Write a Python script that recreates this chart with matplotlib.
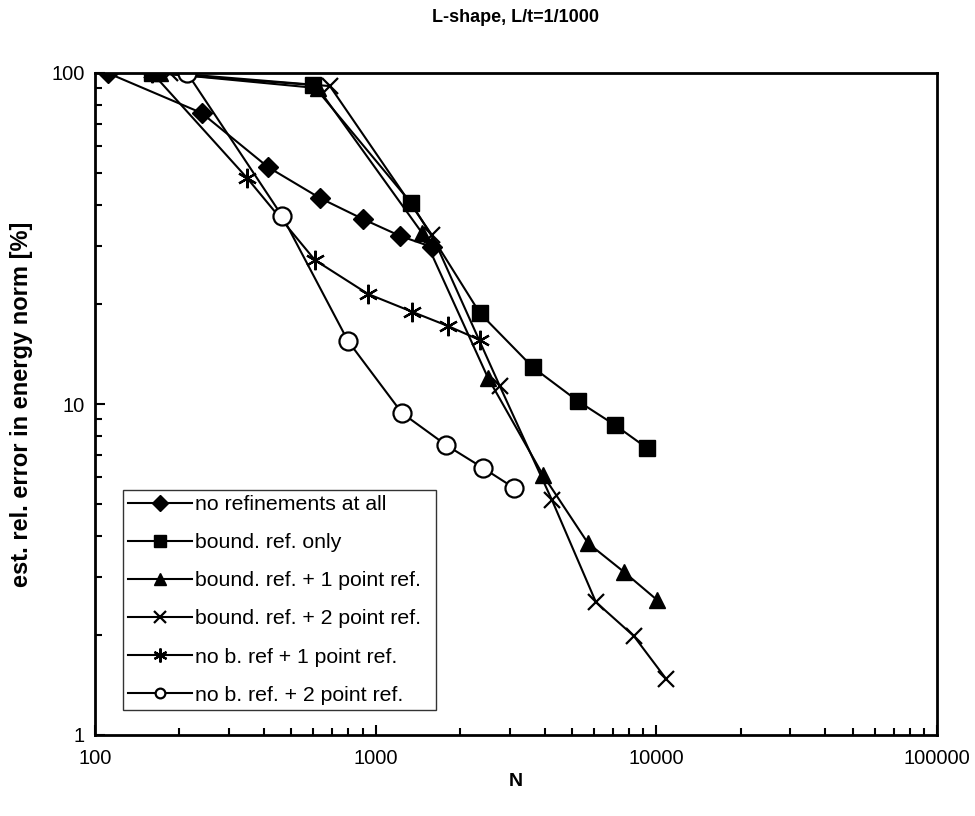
import matplotlib
matplotlib.use("Agg")
import matplotlib.pyplot as plt
from matplotlib.ticker import LogLocator, FuncFormatter, NullFormatter

plt.rcParams['font.family'] = ['Liberation Sans', 'DejaVu Sans']

# data
n_none = [111, 240, 413, 633, 901, 1221, 1587]
e_none = [100, 75.7, 52.0, 41.9, 36.2, 32.2, 29.8]

n_bound = [160, 598, 1336, 2353, 3634, 5258, 7120, 9260]
e_bound = [100, 92.0, 40.5, 18.8, 12.9, 10.2, 8.64, 7.36]

n_b1 = [170, 623, 1462, 2512, 3945, 5706, 7665, 10050]
e_b1 = [100, 90.0, 32.9, 12.0, 6.10, 3.80, 3.11, 2.56]

n_b2 = [185, 687, 1587, 2773, 4246, 6092, 8318, 10820]
e_b2 = [100, 91.3, 32.4, 11.3, 5.13, 2.52, 1.99, 1.48]

n_nb1 = [160, 348, 608, 939, 1347, 1810, 2353]
e_nb1 = [100, 48.2, 27.2, 21.5, 19.0, 17.2, 15.6]

n_nb2 = [213, 464, 797, 1241, 1780, 2411, 3109]
e_nb2 = [100, 37.0, 15.5, 9.39, 7.52, 6.41, 5.58]

labels = ["no refinements at all", "bound. ref. only",
          "bound. ref. + 1 point ref.", "bound. ref. + 2 point ref.",
          "no b. ref + 1 point ref.", "no b. ref. + 2 point ref."]

fig = plt.figure(figsize=(9.75, 8.16), dpi=100)
ax = fig.add_axes([95/975, 1 - 735/816, (937-95)/975, (735-73)/816])

lw = 1.5
ax.plot(n_none, e_none, "k-", marker="D", ms=10, lw=lw, label=labels[0])
ax.plot(n_bound, e_bound, "k-", marker="s", ms=11, lw=lw, label=labels[1])
ax.plot(n_b1, e_b1, "k-", marker="^", ms=12, lw=lw, label=labels[2])
ax.plot(n_b2, e_b2, "k-", marker="x", ms=11, mew=1.6, lw=lw, label=labels[3])
ax.plot(n_nb1, e_nb1, "k-", marker=(6, 2, 0), ms=14, mew=1.6, lw=lw, label=labels[4])
ax.plot(n_nb2, e_nb2, "k-", marker="o", ms=13, mfc="white", mew=1.6, lw=lw,
        label=labels[5])

ax.set_xscale("log")
ax.set_yscale("log")
ax.set_xlim(100, 100000)
ax.set_ylim(1, 100)

fmt = FuncFormatter(lambda v, p: f"{v:g}")
ax.xaxis.set_major_formatter(fmt)
ax.yaxis.set_major_formatter(fmt)
ax.xaxis.set_minor_locator(LogLocator(base=10, subs=range(2, 10)))
ax.yaxis.set_minor_locator(LogLocator(base=10, subs=range(2, 10)))
ax.xaxis.set_minor_formatter(NullFormatter())
ax.yaxis.set_minor_formatter(NullFormatter())

ax.tick_params(which="both", direction="in", width=1.5, labelsize=14.5,
               top=False, right=False)
ax.tick_params(which="major", length=7)
ax.tick_params(which="minor", length=5)
ax.tick_params(axis="x", which="major", pad=10)
ax.tick_params(axis="y", which="major", pad=7.5)

for s in ax.spines.values():
    s.set_linewidth(2)

ax.set_title("L-shape, L/t=1/1000", fontsize=13, fontweight="bold", pad=37)
ax.set_xlabel("N", fontsize=14, fontweight="bold")
ax.set_ylabel("est. rel. error in energy norm [%]", fontsize=17,
              fontweight="bold")
ax.xaxis.set_label_coords(0.5, -0.057)
ax.yaxis.set_label_coords(-0.074, 0.5)

# legend box: x 123..436 px, y 489..710 px
leg = ax.legend(loc="lower left",
                bbox_to_anchor=(28/842, (735-710)/662, 313/842, 0.1),
                mode="expand",
                fontsize=15.3, frameon=True, fancybox=False, edgecolor="black",
                handlelength=3.0, handletextpad=0.14, labelspacing=0.9,
                borderpad=0.25, borderaxespad=0)
leg.get_frame().set_linewidth(1.0)
for h, ms in zip(leg.legend_handles, [8, 9, 9, 9, 10, 7]):
    h.set_markersize(ms)

fig.savefig("out.png", dpi=100, facecolor="white")
